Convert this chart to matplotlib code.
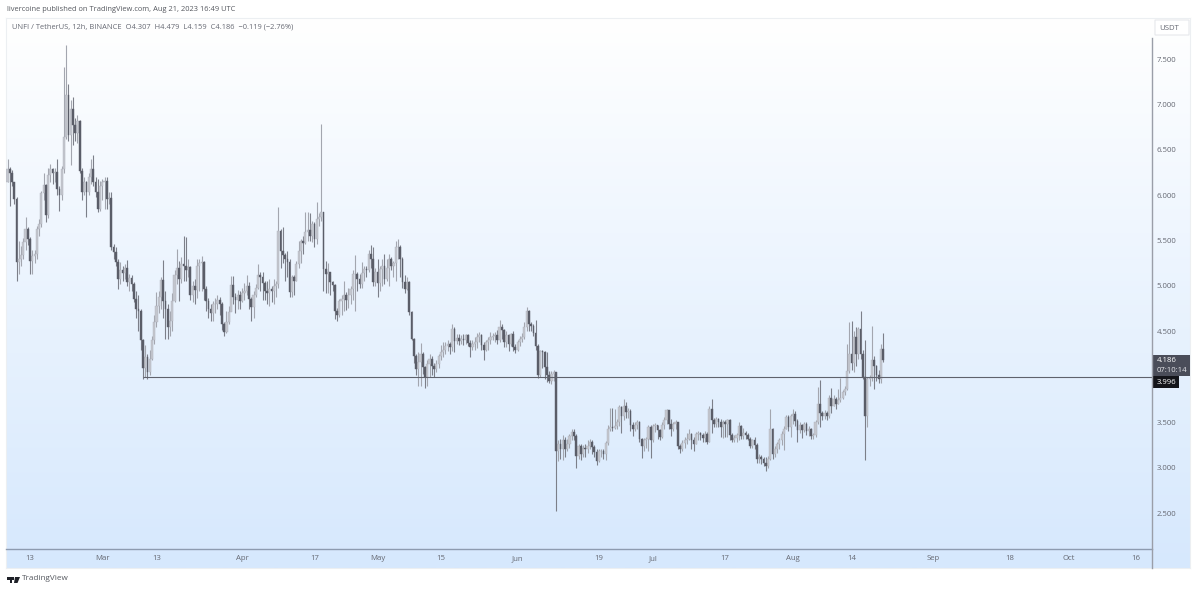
import matplotlib
matplotlib.use('Agg')
import matplotlib.pyplot as plt
from matplotlib.patches import Rectangle, Polygon, FancyBboxPatch
import numpy as np
import pandas as pd

plt.rcParams['font.family'] = ['Open Sans', 'DejaVu Sans']

W, H = 1200, 591

#12h candles, first one is 2023-02-08
start = pd.Timestamp('2023-02-08')

closes = [
    6.29, 6.24, 6.14, 5.96, 5.26, 5.30, 5.34, 5.48, 5.63, 5.52,
    5.28, 5.33, 5.35, 5.63, 5.68, 6.02, 6.11, 5.78, 6.22, 6.29,
    6.24, 6.26, 6.07, 6.00, 6.29, 6.64, 7.10, 6.66, 6.95, 6.77,
    6.68, 6.82, 6.27, 6.03, 6.14, 6.03, 6.20, 6.29, 6.14, 6.03,
    5.85, 6.10, 6.14, 6.16, 5.96, 5.97, 5.43, 5.37, 5.26, 5.08,
    5.18, 5.14, 5.20, 5.04, 5.09, 5.02, 4.86, 4.75, 4.72, 4.40,
    4.10, 4.22, 4.05, 4.20, 4.40, 4.60, 4.78, 4.88, 5.07, 4.83,
    4.75, 4.55, 4.62, 4.84, 5.12, 5.20, 5.08, 5.24, 5.22, 5.18,
    5.21, 4.90, 5.00, 4.96, 5.22, 5.25, 5.26, 4.97, 4.84, 4.75,
    4.70, 4.80, 4.80, 4.85, 4.80, 4.58, 4.49, 4.60, 4.71, 5.01,
    4.88, 4.85, 4.90, 4.84, 4.92, 4.95, 5.00, 4.86, 4.77, 4.90,
    4.98, 5.12, 5.10, 5.03, 4.95, 4.92, 4.97, 4.95, 5.00, 5.02,
    5.61, 5.39, 5.34, 5.30, 5.26, 4.93, 5.10, 5.06, 5.24, 5.38,
    5.50, 5.47, 5.60, 5.62, 5.55, 5.68, 5.52, 5.74, 5.76, 5.81,
    5.19, 5.13, 5.15, 5.04, 5.01, 4.73, 4.68, 4.84, 4.86, 4.90,
    4.85, 4.90, 4.97, 5.13, 5.13, 5.08, 5.02, 5.14, 5.19, 5.18,
    5.35, 5.30, 5.04, 5.15, 5.03, 5.19, 5.22, 5.08, 5.20, 5.30,
    5.22, 5.25, 5.43, 5.43, 5.30, 5.04, 4.97, 5.04, 4.71, 4.42,
    4.23, 4.09, 4.16, 4.25, 4.11, 4.00, 4.14, 4.20, 4.12, 4.09,
    4.14, 4.23, 4.27, 4.29, 4.34, 4.36, 4.33, 4.53, 4.39, 4.43,
    4.39, 4.42, 4.40, 4.46, 4.37, 4.33, 4.36, 4.38, 4.44, 4.46,
    4.35, 4.30, 4.38, 4.40, 4.44, 4.45, 4.46, 4.40, 4.55, 4.51,
    4.38, 4.46, 4.36, 4.47, 4.33, 4.29, 4.38, 4.42, 4.44, 4.55,
    4.73, 4.58, 4.56, 4.48, 4.34, 4.02, 4.28, 4.27, 4.11, 4.02,
    3.95, 4.03, 4.05, 3.18, 3.26, 3.20, 3.30, 3.21, 3.26, 3.35,
    3.39, 3.35, 3.13, 3.24, 3.15, 3.22, 3.20, 3.24, 3.28, 3.23,
    3.17, 3.07, 3.18, 3.18, 3.15, 3.27, 3.42, 3.45, 3.44, 3.46,
    3.50, 3.67, 3.57, 3.68, 3.61, 3.62, 3.47, 3.42, 3.47, 3.50,
    3.32, 3.24, 3.30, 3.32, 3.45, 3.30, 3.46, 3.47, 3.41, 3.34,
    3.47, 3.52, 3.63, 3.48, 3.43, 3.48, 3.50, 3.24, 3.20, 3.27,
    3.30, 3.32, 3.37, 3.30, 3.26, 3.37, 3.38, 3.36, 3.33, 3.37,
    3.28, 3.65, 3.52, 3.48, 3.53, 3.50, 3.45, 3.50, 3.48, 3.52,
    3.36, 3.30, 3.33, 3.36, 3.46, 3.35, 3.38, 3.36, 3.32, 3.24,
    3.30, 3.25, 3.10, 3.12, 3.10, 3.05, 3.02, 3.10, 3.43, 3.15,
    3.20, 3.26, 3.30, 3.37, 3.43, 3.56, 3.45, 3.57, 3.59, 3.51,
    3.41, 3.47, 3.41, 3.48, 3.40, 3.42, 3.35, 3.36, 3.50, 3.70,
    3.60, 3.57, 3.60, 3.57, 3.77, 3.68, 3.76, 3.70, 3.74, 3.77,
    3.83, 3.87, 4.06, 4.25, 4.15, 4.44, 4.25, 4.53, 4.25, 4.00,
    3.57, 3.98, 3.99, 4.18, 4.12, 4.02, 3.98, 4.307, 4.186]

highs = [
    6.40, 6.31, 6.28, 6.14, 5.98, 5.50, 5.44, 5.53, 5.76, 5.65,
    5.54, 5.40, 5.40, 5.66, 5.74, 6.05, 6.25, 6.12, 6.30, 6.34,
    6.30, 6.30, 6.40, 6.10, 6.32, 7.41, 7.65, 7.23, 7.05, 7.08,
    6.85, 6.88, 6.83, 6.30, 6.20, 6.16, 6.25, 6.40, 6.44, 6.20,
    6.18, 6.16, 6.18, 6.20, 6.20, 6.03, 6.03, 5.46, 5.43, 5.30,
    5.26, 5.22, 5.24, 5.29, 5.13, 5.12, 5.04, 4.95, 4.90, 4.75,
    4.42, 4.35, 4.25, 4.30, 4.45, 4.68, 4.93, 4.95, 5.10, 5.29,
    4.94, 4.80, 4.72, 4.92, 5.18, 5.41, 5.27, 5.32, 5.55, 5.54,
    5.30, 5.22, 5.05, 5.08, 5.30, 5.30, 5.33, 5.28, 5.00, 4.87,
    4.80, 4.84, 4.87, 4.90, 4.88, 4.82, 4.60, 4.72, 4.78, 5.11,
    5.11, 4.92, 4.96, 4.95, 4.98, 5.03, 5.12, 5.04, 4.88, 4.95,
    5.02, 5.24, 5.15, 5.15, 5.05, 5.05, 5.08, 5.00, 5.08, 5.05,
    5.87, 5.63, 5.65, 5.36, 5.38, 5.30, 5.12, 5.12, 5.27, 5.50,
    5.52, 5.55, 5.81, 5.81, 5.80, 5.72, 5.70, 5.92, 5.80, 6.78,
    5.82, 5.28, 5.25, 5.12, 5.06, 5.02, 4.76, 4.86, 4.90, 5.06,
    4.93, 4.98, 5.00, 5.18, 5.34, 5.15, 5.13, 5.26, 5.22, 5.22,
    5.40, 5.45, 5.43, 5.20, 5.30, 5.22, 5.30, 5.35, 5.30, 5.35,
    5.32, 5.28, 5.50, 5.52, 5.45, 5.32, 5.12, 5.10, 5.06, 4.72,
    4.43, 4.25, 4.27, 4.37, 4.27, 4.12, 4.18, 4.25, 4.23, 4.15,
    4.18, 4.25, 4.35, 4.38, 4.38, 4.40, 4.38, 4.58, 4.55, 4.47,
    4.47, 4.46, 4.47, 4.47, 4.47, 4.40, 4.40, 4.44, 4.48, 4.49,
    4.47, 4.38, 4.40, 4.44, 4.49, 4.48, 4.49, 4.52, 4.63, 4.58,
    4.53, 4.50, 4.47, 4.48, 4.50, 4.36, 4.40, 4.45, 4.48, 4.60,
    4.77, 4.74, 4.60, 4.58, 4.63, 4.36, 4.30, 4.30, 4.28, 4.27,
    4.06, 4.06, 4.08, 4.05, 3.30, 3.32, 3.36, 3.34, 3.32, 3.37,
    3.42, 3.42, 3.37, 3.26, 3.26, 3.25, 3.26, 3.30, 3.32, 3.30,
    3.25, 3.20, 3.21, 3.20, 3.20, 3.29, 3.47, 3.66, 3.66, 3.65,
    3.54, 3.69, 3.68, 3.76, 3.72, 3.66, 3.64, 3.50, 3.50, 3.52,
    3.51, 3.33, 3.33, 3.34, 3.47, 3.47, 3.48, 3.49, 3.47, 3.43,
    3.50, 3.56, 3.65, 3.63, 3.54, 3.50, 3.52, 3.50, 3.26, 3.30,
    3.34, 3.38, 3.42, 3.38, 3.34, 3.39, 3.40, 3.39, 3.38, 3.40,
    3.39, 3.68, 3.76, 3.55, 3.56, 3.55, 3.53, 3.52, 3.52, 3.54,
    3.54, 3.38, 3.36, 3.38, 3.50, 3.47, 3.44, 3.40, 3.38, 3.34,
    3.32, 3.34, 3.27, 3.15, 3.14, 3.12, 3.12, 3.13, 3.65, 3.44,
    3.24, 3.28, 3.33, 3.40, 3.46, 3.58, 3.58, 3.59, 3.65, 3.62,
    3.53, 3.50, 3.48, 3.50, 3.50, 3.46, 3.44, 3.38, 3.52, 3.89,
    3.96, 3.62, 3.63, 3.62, 3.80, 3.88, 3.80, 3.78, 3.87, 3.99,
    3.86, 3.90, 4.36, 4.60, 4.62, 4.50, 4.55, 4.55, 4.73, 4.30,
    4.40, 4.00, 4.02, 4.56, 4.23, 4.13, 4.08, 4.36, 4.479]

lows = [
    6.14, 5.88, 6.10, 5.90, 5.05, 5.13, 5.22, 5.30, 5.40, 5.45,
    5.13, 5.13, 5.25, 5.30, 5.55, 5.65, 5.95, 5.70, 5.75, 6.15,
    6.12, 6.15, 6.00, 5.83, 5.95, 6.25, 6.62, 6.60, 6.33, 6.55,
    6.60, 6.58, 6.25, 5.95, 6.00, 5.76, 6.00, 6.12, 6.10, 5.98,
    5.82, 5.83, 5.95, 5.85, 5.85, 5.90, 5.40, 5.30, 5.22, 4.97,
    5.02, 5.05, 5.08, 5.00, 4.95, 4.94, 4.82, 4.65, 4.50, 4.30,
    3.98, 4.00, 3.98, 4.02, 4.18, 4.36, 4.55, 4.70, 4.75, 4.65,
    4.42, 4.42, 4.45, 4.50, 4.82, 5.02, 4.84, 5.03, 5.05, 5.05,
    5.10, 4.85, 4.82, 4.80, 4.87, 4.95, 4.95, 4.85, 4.72, 4.65,
    4.62, 4.62, 4.70, 4.75, 4.68, 4.52, 4.45, 4.48, 4.58, 4.72,
    4.80, 4.70, 4.75, 4.75, 4.82, 4.85, 4.90, 4.75, 4.61, 4.65,
    4.88, 4.97, 4.95, 4.85, 4.85, 4.80, 4.78, 4.82, 4.80, 4.88,
    4.98, 5.20, 5.25, 5.05, 5.10, 4.88, 4.88, 4.90, 5.05, 5.20,
    5.25, 5.35, 5.46, 5.50, 5.50, 5.48, 5.43, 5.46, 5.66, 5.72,
    4.95, 4.92, 4.92, 4.90, 4.95, 4.64, 4.62, 4.66, 4.68, 4.72,
    4.74, 4.76, 4.80, 4.85, 4.73, 4.95, 4.98, 4.98, 5.06, 5.10,
    5.15, 5.20, 5.00, 5.00, 4.88, 4.95, 5.00, 5.02, 5.05, 5.00,
    5.18, 5.10, 5.05, 5.30, 5.10, 4.98, 4.92, 4.96, 4.68, 4.40,
    4.15, 4.02, 3.90, 3.90, 4.03, 3.88, 3.90, 4.00, 4.02, 4.00,
    4.05, 4.10, 4.18, 4.22, 4.25, 4.28, 4.25, 4.28, 4.27, 4.36,
    4.35, 4.36, 4.35, 4.36, 4.34, 4.22, 4.30, 4.30, 4.32, 4.38,
    4.30, 4.19, 4.28, 4.30, 4.36, 4.40, 4.38, 4.36, 4.38, 4.42,
    4.33, 4.33, 4.28, 4.34, 4.28, 4.26, 4.28, 4.34, 4.38, 4.42,
    4.50, 4.50, 4.50, 4.45, 4.30, 3.99, 4.00, 4.10, 3.98, 3.94,
    3.93, 3.92, 3.95, 2.52, 3.07, 3.10, 3.08, 3.12, 3.18, 3.22,
    3.30, 3.30, 3.00, 3.10, 3.08, 3.12, 3.12, 3.16, 3.20, 3.15,
    3.12, 3.03, 3.06, 3.12, 3.10, 3.08, 3.25, 3.40, 3.40, 3.42,
    3.42, 3.46, 3.38, 3.52, 3.55, 3.55, 3.40, 3.35, 3.40, 3.42,
    3.28, 3.11, 3.18, 3.22, 3.18, 3.11, 3.28, 3.39, 3.32, 3.30,
    3.33, 3.42, 3.48, 3.42, 3.35, 3.40, 3.42, 3.20, 3.16, 3.18,
    3.22, 3.26, 3.30, 3.20, 3.18, 3.26, 3.30, 3.30, 3.28, 3.28,
    3.26, 3.28, 3.38, 3.45, 3.45, 3.45, 3.34, 3.33, 3.34, 3.34,
    3.30, 3.28, 3.28, 3.28, 3.30, 3.32, 3.31, 3.32, 3.30, 3.22,
    3.22, 3.20, 3.05, 3.05, 3.04, 3.02, 2.96, 3.00, 3.08, 3.10,
    3.12, 3.16, 3.20, 3.25, 3.19, 3.42, 3.40, 3.34, 3.48, 3.46,
    3.28, 3.38, 3.33, 3.39, 3.36, 3.35, 3.32, 3.32, 3.34, 3.48,
    3.45, 3.52, 3.54, 3.52, 3.55, 3.60, 3.68, 3.65, 3.70, 3.72,
    3.76, 3.80, 3.85, 4.04, 4.07, 4.05, 4.12, 4.20, 4.20, 3.98,
    3.08, 3.45, 3.90, 3.95, 3.87, 3.95, 3.93, 3.93, 4.159]

#each candle opens where the last one closed
opens = [6.14] + closes[:-1]

level = 3.996
level_start = 60

price_ticks = [2.5, 3.0, 3.5, 4.0, 4.5, 5.0, 5.5, 6.0, 6.5, 7.0, 7.5]
price_labels = ['2.500', '3.000', '3.500', '', '4.500', '5.000', '5.500', '6.000', '6.500', '7.000', '7.500']
date_ticks = ['2023-02-13', '2023-03-01', '2023-03-13', '2023-04-01', '2023-04-17', '2023-05-01',
              '2023-05-15', '2023-06-01', '2023-06-19', '2023-07-01', '2023-07-17', '2023-08-01',
              '2023-08-14', '2023-09-01', '2023-09-18', '2023-10-01', '2023-10-16']
date_labels = ['13', 'Mar', '13', 'Apr', '17', 'May', '15', 'Jun', '19', 'Jul', '17', 'Aug', '14', 'Sep', '18', 'Oct', '16']

header = 'UNFI / TetherUS, 12h, BINANCE  O4.307  H4.479  L4.159  C4.186  \u22120.119 (\u22122.76%)'

TEXT = '#666973'


def add_axes_px(fig, x0, y0, x1, y1):
    return fig.add_axes([x0/W, 1 - y1/H, (x1 - x0)/W, (y1 - y0)/H])


fig = plt.figure(figsize=[W/100, H/100], dpi=100, facecolor='white')

#background gradient behind chart and both scales
bg = add_axes_px(fig, 6, 18, 1190, 568)
grad = np.linspace(0, 1, 256)[:, None]
cols = np.array([1.0, 1.0, 1.0]) + grad[..., None]*(np.array([214, 232, 253])/255 - 1)
bg.imshow(cols, aspect='auto', extent=[0, 1, 0, 1])
bg.set_xticks([])
bg.set_yticks([])
for s in bg.spines.values():
    s.set_color('#eceff2')
    s.set_linewidth(0.8)

ax = add_axes_px(fig, 6, 18, 1152, 549)
ax.patch.set_alpha(0)

x = np.arange(len(closes))
o = np.array(opens)
c = np.array(closes)
h = np.array(highs)
l = np.array(lows)
up = c >= o

ax.vlines(x[up], l[up], h[up], color='#a3a6af', lw=0.8, zorder=2)
ax.vlines(x[~up], l[~up], h[~up], color='#7c7f89', lw=0.8, zorder=2)
ax.bar(x[up], (c - o)[up], bottom=o[up], width=0.95, color='#c3c6ce', edgecolor='#b0b3bc', lw=0.3, zorder=3)
ax.bar(x[~up], (c - o)[~up], bottom=o[~up], width=0.75, color='#5a5d68', edgecolor='#5a5d68', lw=0.3, zorder=4)

ax.hlines(level, level_start, 520, color='#5f626c', lw=0.8, zorder=5)

#pixel mapping: y=59 is 7.5 and y=513 is 2.5, candle 0 at x=7.5 with 2.257 px per candle
ax.set_xlim((6 - 7.5)/2.257, (1152 - 7.5)/2.257)
ax.set_ylim(2.5 - (549 - 513)/90.8, 7.5 + (59 - 18)/90.8)

ax.yaxis.tick_right()
ax.set_yticks(price_ticks)
ax.set_yticklabels(price_labels, fontsize=5.6, color=TEXT)
tick_x = [2*(pd.Timestamp(d) - start).days for d in date_ticks]
ax.set_xticks(tick_x)
ax.set_xticklabels(date_labels, fontsize=5.6, color=TEXT)
ax.tick_params(axis='both', length=0)
ax.tick_params(axis='x', pad=4.5)
ax.tick_params(axis='y', pad=3.5)
for s in ['top', 'left']:
    ax.spines[s].set_visible(False)
ax.spines['bottom'].set_color('#8d9bb0')
ax.spines['bottom'].set_linewidth(1.0)
ax.spines['right'].set_visible(False)

#price scale line starts under the USDT box
fig.add_artist(plt.Line2D([1152/W, 1152/W], [1 - 38/H, 1 - 568/H], color='#9a9ea8', lw=1.0))

#USDT box
fig.add_artist(FancyBboxPatch((1155/W, 1 - 35/H), 34/W, 15/H, boxstyle='round,pad=0', transform=fig.transFigure,
                              facecolor='#ffffff', edgecolor='#e6e8ec', lw=0.8))
fig.text(1169.5/W, 1 - 28/H, 'USDT', fontsize=5.6, color=TEXT, ha='center', va='center')

#last price and level labels
fig.add_artist(Rectangle((1153/W, 1 - 376/H), 37/W, 21/H, transform=fig.transFigure, facecolor='#4a4d59', edgecolor='none'))
fig.text(1157/W, 1 - 361/H, '4.186', fontsize=5.6, color='white', va='center')
fig.text(1157/W, 1 - 370.5/H, '07:10:14', fontsize=5.6, color='#e4e5e9', va='center')
fig.add_artist(Rectangle((1153/W, 1 - 388/H), 26/W, 12/H, transform=fig.transFigure, facecolor='#14151a', edgecolor='none'))
fig.text(1157/W, 1 - 382/H, '3.996', fontsize=5.6, color='white', va='center')

fig.text(7/W, 1 - 9.5/H, 'livercoine published on TradingView.com, Aug 21, 2023 16:49 UTC', fontsize=5.4, color='#55585f', va='center')
fig.text(12/W, 1 - 27/H, header, fontsize=5.4, color=TEXT, va='center')

#TradingView logo
logo = '#1f2128'
fig.add_artist(Rectangle((7/W, 1 - 580/H), 7/W, 3/H, transform=fig.transFigure, facecolor=logo, edgecolor='none'))
fig.add_artist(Polygon([(15/W, 1 - 577/H), (20/W, 1 - 577/H), (17.5/W, 1 - 583/H), (14/W, 1 - 583/H)], transform=fig.transFigure, facecolor=logo, edgecolor='none'))
fig.add_artist(Rectangle((9.5/W, 1 - 583/H), 2.5/W, 4/H, transform=fig.transFigure, facecolor=logo, edgecolor='none'))
fig.text(22/W, 1 - 579/H, 'TradingView', fontsize=5.9, color='#55585f', va='center')

plt.savefig('out.png', dpi=100)
